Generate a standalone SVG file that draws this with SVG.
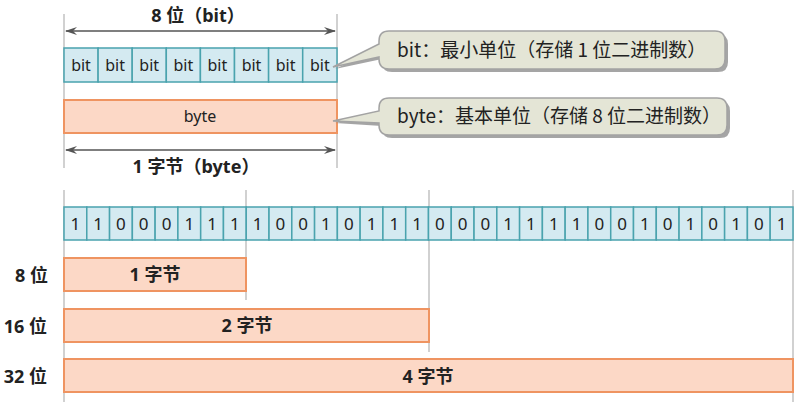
<svg xmlns="http://www.w3.org/2000/svg" width="800" height="407" viewBox="0 0 800 407">
<style>
.guide{stroke:#b3b3b3;stroke-width:1.2;fill:none}
.dim{stroke:#555;stroke-width:1.5;fill:none}
.bitc{fill:#d4eaf1;stroke:#4aa3ae;stroke-width:1.5}
.byte{fill:#fcd8c6;stroke:#ef9461;stroke-width:2}
.t{font-family:"Noto Sans","Noto Sans CJK SC",sans-serif;fill:#222}
.lbl{font-family:"Noto Sans","Noto Sans CJK SC",sans-serif;font-weight:bold;fill:#222;font-size:18px}
.cell{font-size:16px;text-anchor:middle}
.dig{font-size:17px;text-anchor:middle}
.call{fill:#e4e5d6;stroke:#a3a3a3;stroke-width:1.5}
.shadow{fill:#8f8f8f;opacity:0.8}
.ctext{font-family:"Noto Sans CJK SC","Noto Sans",sans-serif;font-size:19px;fill:#222}
</style>
<defs>
<marker id="ah" viewBox="0 0 12 8" refX="11" refY="4" markerWidth="12" markerHeight="8" markerUnits="userSpaceOnUse" orient="auto-start-reverse">
<path d="M0,0 L12,4 L0,8 L4,4 Z" fill="#555"/>
</marker>
</defs>

<g id="connectors">
<line class="guide" x1="64" y1="14" x2="64" y2="168"/>
<line class="guide" x1="337" y1="14" x2="337" y2="168"/>
<line class="dim" x1="66" y1="31" x2="335" y2="31" marker-start="url(#ah)" marker-end="url(#ah)"/>
<line class="dim" x1="66" y1="150" x2="335" y2="150" marker-start="url(#ah)" marker-end="url(#ah)"/>
<line class="guide" x1="64" y1="190" x2="64" y2="402"/>
<line class="guide" x1="246" y1="190" x2="246" y2="300"/>
<line class="guide" x1="429" y1="190" x2="429" y2="352"/>
<line class="guide" x1="793" y1="190" x2="793" y2="402"/>
</g>

<g id="label-8bit"><text class="lbl" x="198" y="22" text-anchor="middle">8 位（bit）</text></g>
<g id="label-1byte"><text class="lbl" x="196" y="173" text-anchor="middle">1 字节（byte）</text></g>

<g id="bits-row">
<rect class="bitc" x="64" y="48" width="34.1" height="34"/>
<rect class="bitc" x="98.1" y="48" width="34.1" height="34"/>
<rect class="bitc" x="132.2" y="48" width="34.1" height="34"/>
<rect class="bitc" x="166.3" y="48" width="34.1" height="34"/>
<rect class="bitc" x="200.4" y="48" width="34.1" height="34"/>
<rect class="bitc" x="234.5" y="48" width="34.1" height="34"/>
<rect class="bitc" x="268.6" y="48" width="34.1" height="34"/>
<rect class="bitc" x="302.7" y="48" width="34.3" height="34"/>
<g class="t cell">
<text x="81" y="71">bit</text><text x="115.1" y="71">bit</text><text x="149.2" y="71">bit</text><text x="183.3" y="71">bit</text>
<text x="217.4" y="71">bit</text><text x="251.5" y="71">bit</text><text x="285.6" y="71">bit</text><text x="319.8" y="71">bit</text>
</g>
</g>

<g id="byte-box">
<rect class="byte" x="64" y="100" width="273" height="33"/>
<text class="t" x="200" y="122" font-size="16" text-anchor="middle">byte</text>
</g>

<g id="callout-bit">
<path class="shadow" d="M392,34 H718 Q728,34 728,44 V62 Q728,72 718,72 H392 Q382,72 382,62 V59 L335,69 L382,47 V44 Q382,34 392,34 Z"/>
<path class="call" d="M389,31 H715 Q725,31 725,41 V59 Q725,69 715,69 H389 Q379,69 379,59 V57 L333,67 L379,44 V41 Q379,31 389,31 Z"/>
<text class="ctext" x="397" y="57">bit：最小单位（存储 1 位二进制数）</text>
</g>

<g id="callout-byte">
<path class="shadow" d="M392,101 H720 Q730,101 730,111 V128 Q730,138 720,138 H392 Q382,138 382,128 V126 L335,123 L382,114 V111 Q382,101 392,101 Z"/>
<path class="call" d="M389,98 H717 Q727,98 727,108 V125 Q727,135 717,135 H389 Q379,135 379,125 V123 L333,121 L379,111 V108 Q379,98 389,98 Z"/>
<text class="ctext" x="397" y="123">byte：基本单位（存储 8 位二进制数）</text>
</g>

<g id="bit-sequence">
<rect class="bitc" x="64.0" y="207" width="22.78" height="33"/>
<rect class="bitc" x="86.78" y="207" width="22.78" height="33"/>
<rect class="bitc" x="109.56" y="207" width="22.78" height="33"/>
<rect class="bitc" x="132.34" y="207" width="22.78" height="33"/>
<rect class="bitc" x="155.12" y="207" width="22.78" height="33"/>
<rect class="bitc" x="177.9" y="207" width="22.78" height="33"/>
<rect class="bitc" x="200.68" y="207" width="22.78" height="33"/>
<rect class="bitc" x="223.46" y="207" width="22.78" height="33"/>
<rect class="bitc" x="246.24" y="207" width="22.78" height="33"/>
<rect class="bitc" x="269.02" y="207" width="22.78" height="33"/>
<rect class="bitc" x="291.8" y="207" width="22.78" height="33"/>
<rect class="bitc" x="314.58" y="207" width="22.78" height="33"/>
<rect class="bitc" x="337.36" y="207" width="22.78" height="33"/>
<rect class="bitc" x="360.14" y="207" width="22.78" height="33"/>
<rect class="bitc" x="382.92" y="207" width="22.78" height="33"/>
<rect class="bitc" x="405.7" y="207" width="22.78" height="33"/>
<rect class="bitc" x="428.48" y="207" width="22.78" height="33"/>
<rect class="bitc" x="451.26" y="207" width="22.78" height="33"/>
<rect class="bitc" x="474.04" y="207" width="22.78" height="33"/>
<rect class="bitc" x="496.82" y="207" width="22.78" height="33"/>
<rect class="bitc" x="519.6" y="207" width="22.78" height="33"/>
<rect class="bitc" x="542.38" y="207" width="22.78" height="33"/>
<rect class="bitc" x="565.16" y="207" width="22.78" height="33"/>
<rect class="bitc" x="587.94" y="207" width="22.78" height="33"/>
<rect class="bitc" x="610.72" y="207" width="22.78" height="33"/>
<rect class="bitc" x="633.5" y="207" width="22.78" height="33"/>
<rect class="bitc" x="656.28" y="207" width="22.78" height="33"/>
<rect class="bitc" x="679.06" y="207" width="22.78" height="33"/>
<rect class="bitc" x="701.84" y="207" width="22.78" height="33"/>
<rect class="bitc" x="724.62" y="207" width="22.78" height="33"/>
<rect class="bitc" x="747.4" y="207" width="22.78" height="33"/>
<rect class="bitc" x="770.18" y="207" width="22.82" height="33"/>
<g class="t dig">
<text x="75.39" y="230">1</text><text x="98.17" y="230">1</text><text x="120.95" y="230">0</text><text x="143.73" y="230">0</text>
<text x="166.51" y="230">0</text><text x="189.29" y="230">1</text><text x="212.07" y="230">1</text><text x="234.85" y="230">1</text>
<text x="257.63" y="230">1</text><text x="280.41" y="230">0</text><text x="303.19" y="230">0</text><text x="325.97" y="230">1</text>
<text x="348.75" y="230">0</text><text x="371.53" y="230">1</text><text x="394.31" y="230">1</text><text x="417.09" y="230">1</text>
<text x="439.87" y="230">0</text><text x="462.65" y="230">0</text><text x="485.43" y="230">0</text><text x="508.21" y="230">1</text>
<text x="530.99" y="230">1</text><text x="553.77" y="230">1</text><text x="576.55" y="230">1</text><text x="599.33" y="230">0</text>
<text x="622.11" y="230">0</text><text x="644.89" y="230">1</text><text x="667.67" y="230">0</text><text x="690.45" y="230">1</text>
<text x="713.23" y="230">0</text><text x="736.01" y="230">1</text><text x="758.79" y="230">0</text><text x="781.59" y="230">1</text>
</g>
</g>

<g id="row-8">
<text class="lbl" x="48" y="282" text-anchor="end">8 位</text>
<rect class="byte" x="64" y="258" width="182" height="33"/>
<text class="lbl" x="155" y="281" text-anchor="middle">1 字节</text>
</g>
<g id="row-16">
<text class="lbl" x="47" y="333" text-anchor="end">16 位</text>
<rect class="byte" x="64" y="309" width="365" height="33"/>
<text class="lbl" x="247" y="332" text-anchor="middle">2 字节</text>
</g>
<g id="row-32">
<text class="lbl" x="47" y="383" text-anchor="end">32 位</text>
<rect class="byte" x="64" y="359" width="729" height="33"/>
<text class="lbl" x="428" y="383" text-anchor="middle">4 字节</text>
</g>
</svg>
